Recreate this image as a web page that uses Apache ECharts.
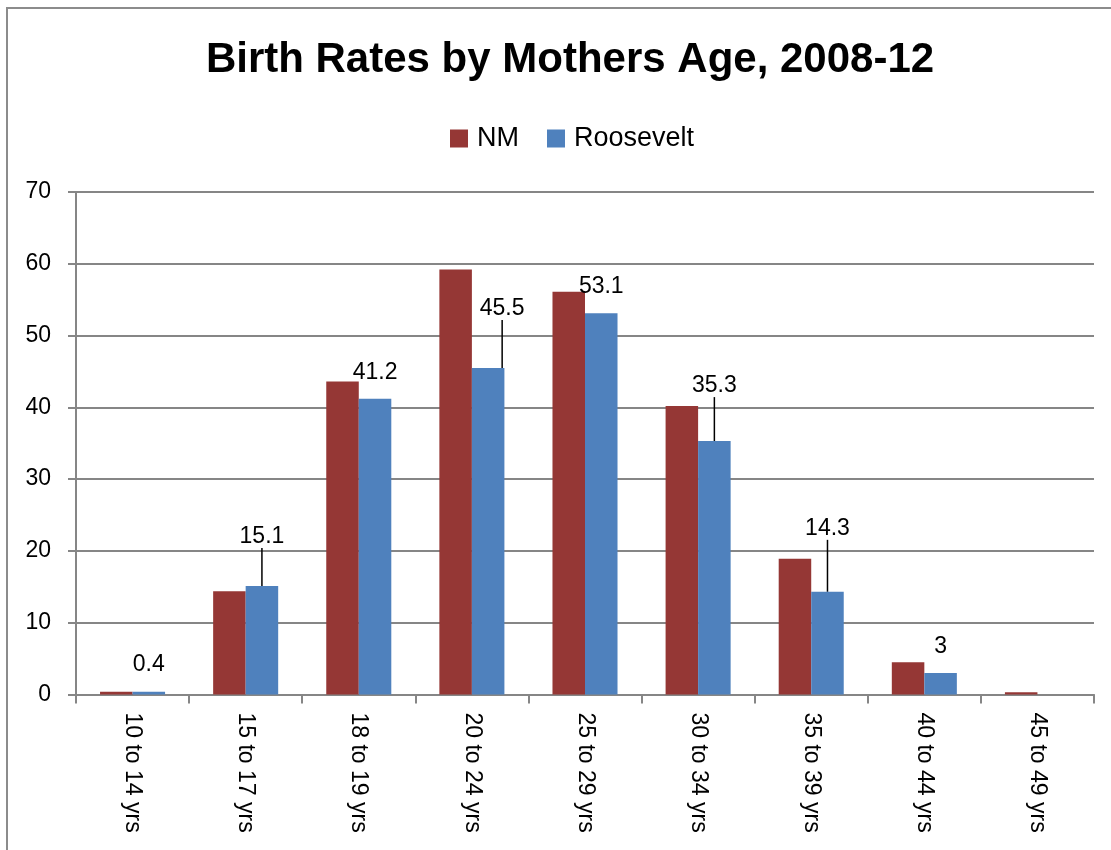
<!DOCTYPE html>
<html>
<head>
<meta charset="utf-8">
<style>
  html, body { margin: 0; padding: 0; background: #fff; }
  #chart { width: 1111px; height: 850px; }
</style>
<script src="https://cdn.jsdelivr.net/npm/echarts@6/dist/echarts.min.js"></script>
</head>
<body>
<div id="chart"></div>
<script>
// datos
const ageGroups = ['10 to 14 yrs', '15 to 17 yrs', '18 to 19 yrs', '20 to 24 yrs', '25 to 29 yrs',
  '30 to 34 yrs', '35 to 39 yrs', '40 to 44 yrs', '45 to 49 yrs'];
const nmRates = [0.4, 14.4, 43.6, 59.2, 56.1, 40.2, 18.9, 4.5, 0.3];
const rooseveltRates = [0.4, 15.1, 41.2, 45.5, 53.1, 35.3, 14.3, 3, null];
const yTicks = [0, 10, 20, 30, 40, 50, 60, 70];

// ajustes de etiquetas movidas a mano (como en el original)
const labelLift = [0, 23, 0, 33, 0, 29, 37, 0, 0];
const labelShift = [0, 0, 0, 14, 0, 0, 0, 0, 0];

const font = 'Liberation Sans';
const gray = '#868686';

// solo las etiquetas movidas llevan linea guia
const rooseveltData = rooseveltRates.map((v, i) => ({
  value: v,
  labelLine: { show: labelLift[i] > 0 }
}));

let myChart = echarts.init(document.getElementById('chart'));
myChart.setOption({
  animation: false,
  backgroundColor: '#fff',
  graphic: [{
    type: 'rect',
    shape: { x: 7, y: 8, width: 1200, height: 1000 },
    style: { fill: 'none', stroke: '#8c8c8c', lineWidth: 2 },
    silent: true
  }],
  title: {
    text: 'Birth Rates by Mothers Age, 2008-12',
    left: 565,
    textAlign: 'center',
    top: 34,
    textStyle: { fontFamily: font, fontWeight: 'bold', fontSize: 42, color: '#000' }
  },
  legend: {
    data: ['NM', 'Roosevelt'],
    left: 445,
    top: 120,
    itemWidth: 18,
    itemHeight: 18,
    itemGap: 28,
    icon: 'rect',
    textStyle: { fontFamily: font, fontSize: 27, color: '#000', padding: [0, 0, 0, 4] }
  },
  grid: { left: 76, right: 17, top: 192, bottom: 155.5, containLabel: false },
  xAxis: {
    type: 'category',
    data: ageGroups,
    axisLine: { lineStyle: { color: gray, width: 2 } },
    axisTick: { show: true, interval: 0, length: 9, lineStyle: { color: gray, width: 2 } },
    axisLabel: {
      interval: 0,
      rotate: -90,
      margin: 18,
      fontFamily: font,
      fontSize: 23,
      color: '#000'
    }
  },
  yAxis: {
    type: 'value',
    min: yTicks[0],
    max: yTicks[yTicks.length - 1],
    interval: 10,
    axisLine: { show: true, lineStyle: { color: gray, width: 2 } },
    axisTick: { show: true, length: 8, lineStyle: { color: gray, width: 2 } },
    splitLine: { lineStyle: { color: gray, width: 2 } },
    axisLabel: { margin: 25, fontFamily: font, fontSize: 23, color: '#000' }
  },
  series: [
    {
      name: 'NM',
      type: 'bar',
      data: nmRates,
      barGap: '0%',
      barCategoryGap: '42.5%',
      itemStyle: { color: '#953735' }
    },
    {
      name: 'Roosevelt',
      type: 'bar',
      data: rooseveltData,
      barGap: '0%',
      barCategoryGap: '42.5%',
      itemStyle: { color: '#4f81bd' },
      label: {
        show: true,
        position: 'top',
        distance: 15,
        fontFamily: font,
        fontSize: 23,
        color: '#000'
      },
      labelLine: { lineStyle: { color: '#000', width: 1.5 } },
      labelLayout: function (params) {
        const i = params.dataIndex;
        if (!labelLift[i] && !labelShift[i]) return {};
        return { dy: -labelLift[i], dx: labelShift[i] };
      }
    }
  ]
});
</script>
</body>
</html>
